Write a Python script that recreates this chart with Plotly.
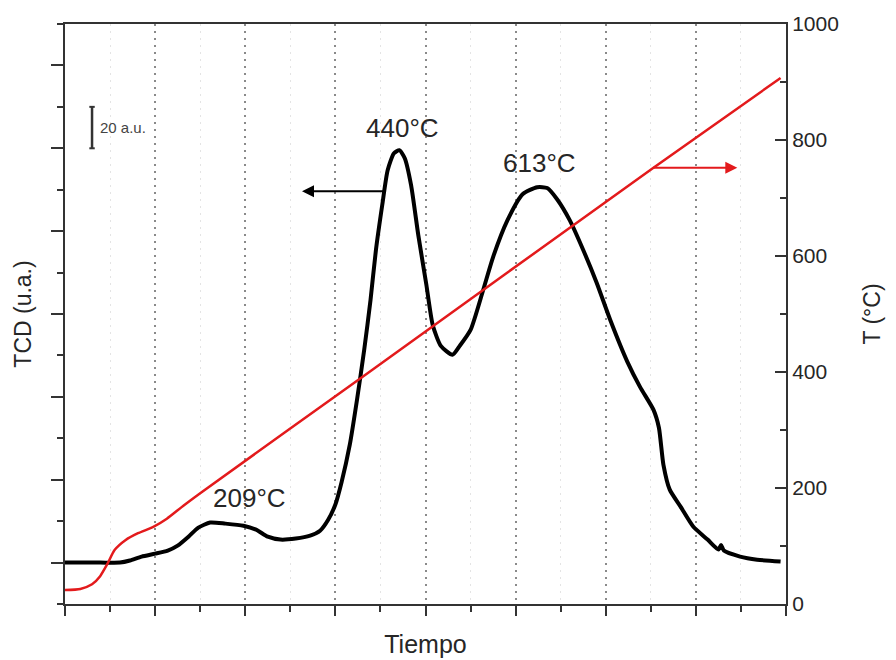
import plotly.graph_objects as go

# ---- data ----
tiempo_tcd = [0.00, 0.39, 0.61, 0.72, 0.85, 1.00, 1.14, 1.25, 1.37, 1.48, 1.61, 1.78, 1.98,
              2.12, 2.25, 2.39, 2.56, 2.72, 2.83, 2.92, 3.00, 3.07, 3.16, 3.24, 3.32, 3.39,
              3.45, 3.52, 3.58, 3.65, 3.71, 3.77, 3.84, 3.92, 4.01, 4.08, 4.17, 4.30, 4.38,
              4.50, 4.64, 4.75, 4.91, 5.08, 5.24, 5.35, 5.46, 5.60, 5.75, 5.90, 6.05, 6.24,
              6.38, 6.53, 6.59, 6.64, 6.71, 6.83, 6.97, 7.13, 7.25, 7.28, 7.31, 7.49, 7.68, 7.94]
tcd = [0.0, 0.0, 0.0, 1.0, 2.9, 4.3, 5.8, 8.2, 12.5, 16.9, 19.3, 18.8, 17.8,
       15.9, 12.5, 11.1, 11.6, 13.0, 15.4, 20.7, 28.0, 39.0, 56.9, 78.6, 102.7, 126.8,
       150.9, 172.6, 189.4, 197.6, 199.1, 195.2, 182.2, 158.1, 134.0, 114.7, 104.6, 100.3, 104.6,
       112.3, 131.6, 147.5, 165.3, 177.9, 181.2, 180.8, 175.4, 165.3, 150.9, 135.0, 117.1, 96.9,
       84.8, 73.7, 65.1, 47.2, 35.2, 27.0, 17.4, 11.1, 6.3, 8.5, 5.8, 2.9, 1.4, 0.5]

tiempo_temp = [0.00, 0.17, 0.30, 0.39, 0.47, 0.55, 0.67, 0.81, 0.98, 1.13, 1.31, 1.50,
               3.33, 6.51, 7.94]
temperatura = [24, 26, 34, 48, 69, 93, 110, 122, 133, 147, 169, 191, 395, 750, 907]

peak_labels = ["209°C", "440°C", "613°C"]
peak_x = [2.05, 3.75, 5.27]
peak_y = [31.3, 210.0, 192.8]

FONT = "Liberation Sans, Arial, sans-serif"
TXT = "#262626"
AX = "#333333"

fig = go.Figure()
fig.add_trace(go.Scatter(x=tiempo_tcd, y=tcd, mode="lines", yaxis="y",
                         line=dict(color="#000000", width=4, shape="spline", smoothing=0.6),
                         showlegend=False, hoverinfo="skip"))
fig.add_trace(go.Scatter(x=tiempo_temp, y=temperatura, mode="lines", yaxis="y2",
                         line=dict(color="#e31a1c", width=2.5, shape="spline", smoothing=0.6),
                         showlegend=False, hoverinfo="skip"))

annotations = []
for t, xx, yy in zip(peak_labels, peak_x, peak_y):
    annotations.append(dict(x=xx, y=yy, xref="x", yref="y", text=t, showarrow=False,
                            font=dict(family=FONT, size=26, color=TXT),
                            xanchor="center", yanchor="middle"))
# arrows
annotations.append(dict(x=2.63, y=179.3, ax=3.55, ay=179.3, xref="x", yref="y",
                        axref="x", ayref="y", text="", showarrow=True, arrowhead=2,
                        arrowsize=1.2, arrowwidth=2, arrowcolor="#000000"))
annotations.append(dict(x=7.46, y=752, ax=6.51, ay=752, xref="x", yref="y2",
                        axref="x", ayref="y2", text="", showarrow=True, arrowhead=2,
                        arrowsize=1.2, arrowwidth=2, arrowcolor="#e31a1c"))
# scale bar label
annotations.append(dict(x=0.37, y=210, xref="x", yref="y", text="20 a.u.", showarrow=False,
                        font=dict(family=FONT, size=15, color="#444444"),
                        xanchor="left", yanchor="middle"))

shapes = [
    dict(type="line", xref="x", yref="y", x0=0.30, x1=0.30, y0=200, y1=220,
         line=dict(color=AX, width=2.5)),
    dict(type="line", xref="x", yref="y", x0=0.27, x1=0.33, y0=200, y1=200,
         line=dict(color=AX, width=2)),
    dict(type="line", xref="x", yref="y", x0=0.27, x1=0.33, y0=220, y1=220,
         line=dict(color=AX, width=2)),
]

fig.update_layout(
    width=896, height=660,
    margin=dict(l=65, r=110, t=24, b=56),
    paper_bgcolor="white", plot_bgcolor="white",
    font=dict(family=FONT, color=TXT),
    annotations=annotations, shapes=shapes,
    xaxis=dict(range=[0, 8], tick0=0, dtick=1, showticklabels=False, automargin=False,
               ticks="outside", ticklen=10, tickwidth=2, tickcolor=AX,
               showline=True, linecolor=AX, linewidth=2, mirror=True,
               showgrid=True, gridcolor="#8a8a8a", griddash="2px,5px", gridwidth=2,
               zeroline=False,
               minor=dict(tick0=0, dtick=0.5, ticks="outside", ticklen=6, tickwidth=1.5,
                          tickcolor=AX, showgrid=True, gridcolor="#e4e4e4", gridwidth=1),
               title=dict(text="Tiempo", font=dict(family=FONT, size=25, color=TXT), standoff=20)),
    yaxis=dict(range=[-20, 260], tick0=0, dtick=40, showticklabels=False, automargin=False,
               ticks="outside", ticklen=12, tickwidth=2, tickcolor=AX,
               showline=True, linecolor=AX, linewidth=2, showgrid=False, zeroline=False,
               minor=dict(tick0=0, dtick=20, ticks="outside", ticklen=6, tickwidth=1.5,
                          tickcolor=AX, showgrid=False),
               title=dict(text="TCD (u.a.)", font=dict(family=FONT, size=23, color=TXT), standoff=13)),
    yaxis2=dict(range=[0, 1000], tick0=0, dtick=200, overlaying="y", side="right",
                automargin=False,
                ticks="inside", ticklen=11, tickwidth=2, tickcolor=AX,
                showline=True, linecolor=AX, linewidth=2, showgrid=False, zeroline=False,
                tickfont=dict(family=FONT, size=21, color=TXT),
                minor=dict(tick0=0, dtick=100, ticks="inside", ticklen=6, tickwidth=1.5,
                           tickcolor=AX, showgrid=False),
                title=dict(text="T (°C)", font=dict(family=FONT, size=23, color=TXT), standoff=26)),
)

fig.write_html("out.html")
